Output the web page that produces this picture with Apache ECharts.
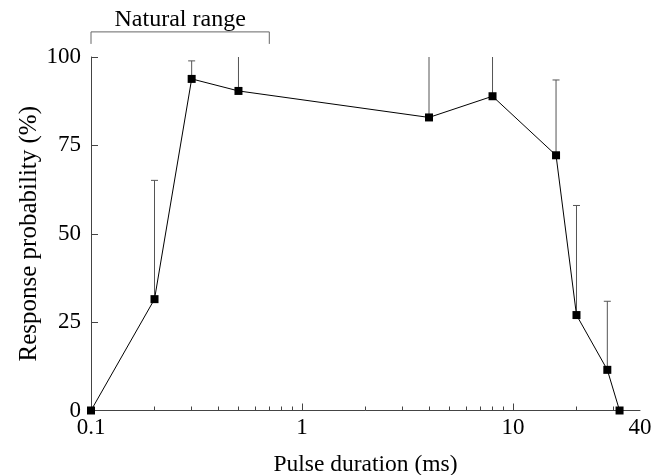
<!DOCTYPE html>
<html>
<head>
<meta charset="utf-8">
<script src="https://cdn.jsdelivr.net/npm/echarts@6/dist/echarts.min.js"></script>
<style>html,body{margin:0;padding:0;background:#fff;}#c{width:669px;height:475px;}</style>
</head>
<body>
<div id="c"></div>
<script>
// Data
const durations = [0.1, 0.2, 0.3, 0.5, 4, 8, 16, 20, 28, 32];          // ms
const responses = [0, 31.5, 93.8, 90.4, 82.9, 88.9, 72.2, 27.0, 11.5, 0]; // %
const upperErr  = [null, 65.1, 98.9, 100, 100, 100, 93.5, 58.0, 30.9, null];
const xLabelValues = [0.1, 1, 10, 40];
const xMajorTicks = [1, 10];
const xMinorTicks = [0.2,0.3,0.4,0.5,0.6,0.7,0.8,0.9,2,3,4,5,6,7,8,9,20,30];
const naturalRange = [0.1, 0.7];
const naturalRangeLabel = 'Natural range';
const bracketLevels = [103.7, 107.1]; // bracket ends / bar, in % units
const bracketTextLevel = 110.6;

const FONT = "'Liberation Serif','Times New Roman',serif";
const AX = '#444';

const chart = echarts.init(document.getElementById('c'));
const errData = durations.map((d, i) => [d, responses[i], upperErr[i]]);

chart.setOption({
  animation: false,
  backgroundColor: '#fff',
  grid: { left: 91, right: 29, top: 57, bottom: 64.5, containLabel: false, outerBoundsMode: 'none' },
  xAxis: [{
    type: 'log', logBase: 10, min: 0.1, max: 40,
    name: 'Pulse duration (ms)', nameLocation: 'middle', nameGap: 42,
    nameTextStyle: { fontFamily: FONT, fontSize: 23.5, color: '#000' },
    axisLine: { show: true, lineStyle: { color: AX, width: 1 } },
    axisTick: { show: true, inside: true, length: 7, lineStyle: { color: AX }, customValues: xMajorTicks },
    axisLabel: { show: true, customValues: xLabelValues, fontFamily: FONT, fontSize: 23, color: '#000', margin: 6,
      formatter: v => String(v) },
    splitLine: { show: false }, minorTick: { show: false }
  }, {
    type: 'log', logBase: 10, min: 0.1, max: 40, position: 'bottom',
    axisLine: { show: false },
    axisTick: { show: true, inside: true, length: 4, lineStyle: { color: AX }, customValues: xMinorTicks },
    axisLabel: { show: false },
    splitLine: { show: false }
  }],
  yAxis: {
    type: 'value', min: 0, max: 100, interval: 25,
    name: 'Response probability (%)', nameLocation: 'middle', nameGap: 49, nameMoveOverlap: false,
    nameTextStyle: { fontFamily: FONT, fontSize: 25, color: '#000' },
    axisLine: { show: true, lineStyle: { color: AX, width: 1 } },
    axisTick: { show: true, inside: true, length: 7, lineStyle: { color: AX } },
    axisLabel: { fontFamily: FONT, fontSize: 23, color: '#000', margin: 10 },
    splitLine: { show: false }
  },
  series: [
    {
      type: 'custom', name: 'err', xAxisIndex: 0, clip: false, z: 1,
      encode: { x: 0, y: [1, 2] },
      data: errData,
      renderItem: function (params, api) {
        const up = api.value(2);
        if (up == null || isNaN(up)) return null;
        const p0 = api.coord([api.value(0), api.value(1)]);
        const p1 = api.coord([api.value(0), up]);
        const children = [{
          type: 'line', shape: { x1: p0[0], y1: p0[1], x2: p1[0], y2: p1[1] },
          style: { stroke: '#555', lineWidth: 1 }
        }];
        if (up < 100) {
          children.push({
            type: 'line', shape: { x1: p1[0] - 3.5, y1: p1[1], x2: p1[0] + 3.5, y2: p1[1] },
            style: { stroke: '#555', lineWidth: 1 }
          });
        }
        return { type: 'group', children: children };
      }
    },
    {
      type: 'line', name: 'resp', xAxisIndex: 0, clip: false, z: 3,
      data: durations.map((d, i) => [d, responses[i]]),
      symbol: 'rect', symbolSize: 8,
      itemStyle: { color: '#000' },
      lineStyle: { color: '#000', width: 1 }
    },
    {
      type: 'custom', name: 'bracket', xAxisIndex: 0, clip: false, silent: true,
      data: [[naturalRange[0], naturalRange[1]]],
      renderItem: function (params, api) {
        const a = api.value(0), b = api.value(1);
        const l0 = api.coord([a, bracketLevels[0]]);
        const l1 = api.coord([a, bracketLevels[1]]);
        const r1 = api.coord([b, bracketLevels[1]]);
        const r0 = api.coord([b, bracketLevels[0]]);
        const mid = api.coord([Math.sqrt(a * b), bracketTextLevel]);
        return { type: 'group', children: [
          { type: 'polyline', shape: { points: [l0, l1, r1, r0] },
            style: { stroke: '#666', lineWidth: 1, fill: null } },
          { type: 'text', x: mid[0], y: mid[1],
            style: { text: naturalRangeLabel, fontFamily: FONT, fontSize: 24, fill: '#000',
              align: 'center', verticalAlign: 'middle' } }
        ] };
      }
    }
  ]
});
</script>
</body>
</html>
